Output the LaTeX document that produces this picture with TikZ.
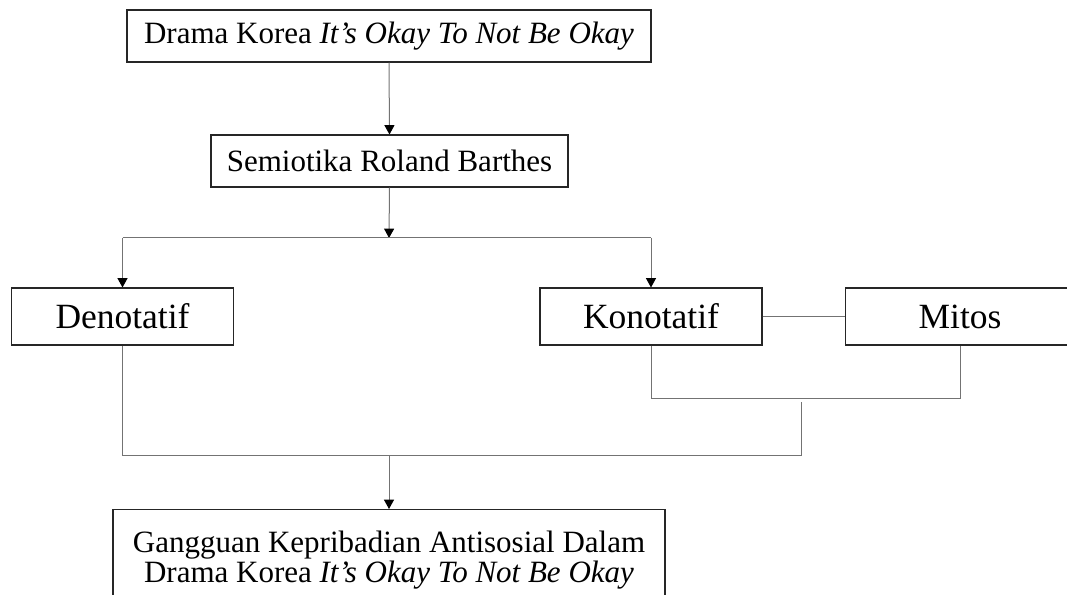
\documentclass[tikz,border=0pt]{standalone}
\usepackage{fontspec}
\setmainfont{Liberation Serif}
\usetikzlibrary{arrows.meta}

\begin{document}
\begin{tikzpicture}[x=0.75pt,y=-0.75pt,
    >={Triangle[length=7pt,width=7.5pt,color=black]},
    box/.style={draw=black!85,line width=0.8pt,inner sep=0pt,align=center,
      font=\fontsize{23.25}{22.5}\selectfont},
    bigbox/.style={box,minimum width=166.5pt,minimum height=42.75pt,
      font=\fontsize{26.6}{30}\selectfont},
    conn/.style={draw=black!55,line width=0.75pt}]
  \clip (0,0) rectangle (1067,595);

  % boxes
  \node[box,minimum width=393pt,minimum height=39pt] (drama) at (389,36)
    {Drama Korea \textit{It's Okay To Not Be Okay}};
  \node[box,minimum width=267.75pt,minimum height=39pt] (semiotika) at (389.5,161)
    {Semiotika Roland Barthes};
  \node[bigbox] (denotatif) at (122.5,316.5) {Denotatif};
  \node[bigbox] (konotatif) at (651,316.5) {Konotatif};
  \node[bigbox,minimum width=172pt] (mitos) at (960,316.5) {Mitos};
  \node[box,minimum width=414pt,minimum height=75.75pt,anchor=north] (hasil) at (389,509)
    {Gangguan Kepribadian Antisosial Dalam\\Drama Korea \textit{It's Okay To Not Be Okay}};

  % junctions
  \coordinate (split) at (389,238);
  \coordinate (kmjoin) at (801,398);
  \coordinate (kmstub) at (801,402);
  \coordinate (merge) at (801,455);

  % connectors
  \draw[conn,->] (drama.south) -- (semiotika.north);
  \draw[conn,->] (semiotika.south) -- (split);
  \draw[conn] (denotatif |- split) -- (konotatif |- split);
  \draw[conn,->] (denotatif |- split) -- (denotatif.north);
  \draw[conn,->] (konotatif |- split) -- (konotatif.north);
  \draw[conn] (konotatif.east) -- (mitos.west);
  \draw[conn] (konotatif.south) -- (konotatif |- kmjoin) -- (mitos |- kmjoin) -- (mitos.south);
  \draw[conn] (kmstub) -- (merge) -- (denotatif |- merge) -- (denotatif.south);
  \draw[conn,->] (hasil |- merge) -- (hasil.north);
\end{tikzpicture}
\end{document}
